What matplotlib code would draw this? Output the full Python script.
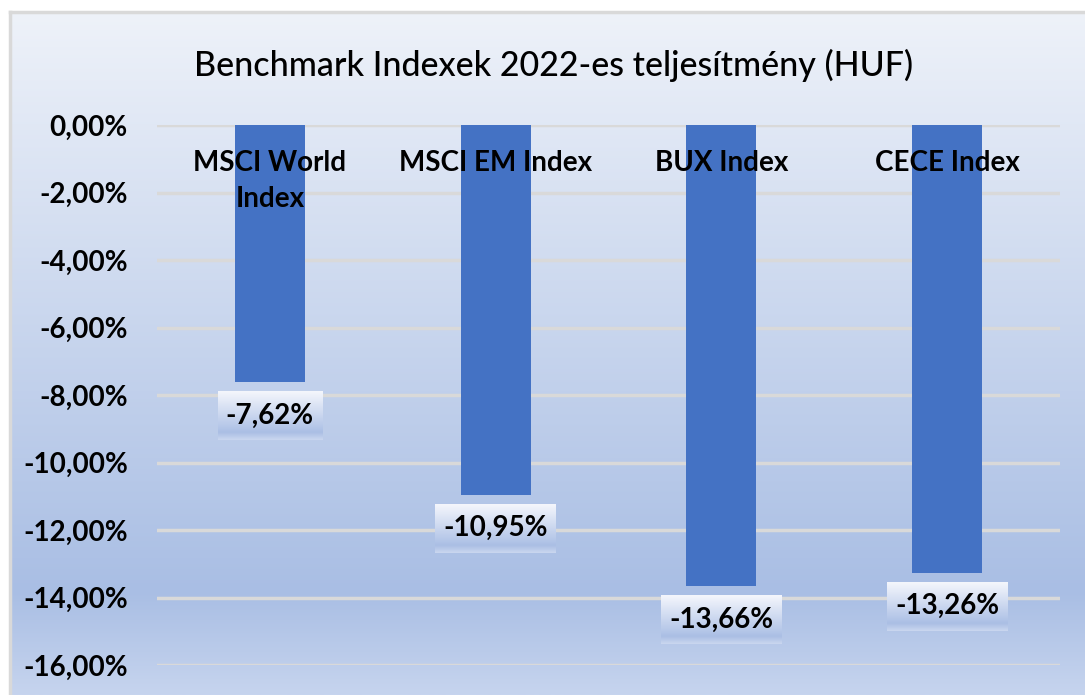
import numpy as np
import matplotlib.pyplot as plt
from matplotlib.colors import LinearSegmentedColormap

# data
categories = ["MSCI World\nIndex", "MSCI EM Index", "BUX Index", "CECE Index"]
values = [-7.62, -10.95, -13.66, -13.26]
yticks = [0, -2, -4, -6, -8, -10, -12, -14, -16]
title = "Benchmark Indexek 2022-es teljesítmény (HUF)"

plt.rcParams['font.family'] = ['Lato', 'DejaVu Sans']

fig = plt.figure(figsize=(10.85, 6.95), dpi=100)

# chart area background with vertical gradient
bg = fig.add_axes([10 / 1085, 0, 1 - 10 / 1085, 683 / 695])
bg_cmap = LinearSegmentedColormap.from_list(
    "bg", [(0, "#eef2f9"), (0.85, "#a9bee4"), (1.0, "#c6d4ee")])
bg.imshow(np.linspace(0, 1, 256).reshape(-1, 1), cmap=bg_cmap, aspect="auto",
          extent=[0, 1, 0, 1])
bg.set_xticks([])
bg.set_yticks([])
for s in ["right", "bottom"]:
    bg.spines[s].set_visible(False)
for s in ["left", "top"]:
    bg.spines[s].set_color("#d9d9d9")
    bg.spines[s].set_linewidth(2.5)

fig.text(554 / 1085, 1 - 65 / 695, title, ha="center", va="center",
         fontsize=24.5, fontweight="medium", color="black")

ax = fig.add_axes([157 / 1085, 30 / 695, 903 / 1085, 540 / 695])
ax.patch.set_alpha(0)
x = np.arange(len(categories))
ax.bar(x, values, width=0.31, color="#4472c4", zorder=2)
ax.set_xlim(-0.5, len(categories) - 0.5)
ax.set_ylim(-16, 0)
ax.set_yticks(yticks)
ax.set_yticklabels([f"{v:.2f}%".replace(".", ",") for v in yticks],
                   fontsize=20, fontweight="bold")
ax.set_xticks([])
ax.tick_params(axis="y", length=0, pad=21)
for s in ax.spines.values():
    s.set_visible(False)
ax.grid(axis="y", color="#d9d9d9", linewidth=2.5, zorder=1)
ax.set_axisbelow(True)

for xi, name in zip(x, categories):
    ax.text(xi, -0.75, name, ha="center", va="top", fontsize=20,
            fontweight="bold", linespacing=1.45, zorder=4)

# data labels with gradient boxes
box_cmap = LinearSegmentedColormap.from_list(
    "box", [(0, "#f4f6fc"), (0.75, "#b4c6e8"), (0.85, "#aabee4"), (1.0, "#c9d6ef")])
labels = []
for xi, v in zip(x, values):
    t = ax.text(xi, v - 1.0, f"{v:.2f}%".replace(".", ","), ha="center",
                va="center", fontsize=20, fontweight="bold", zorder=6)
    labels.append(t)

fig.canvas.draw()
inv = ax.transData.inverted()
for t, v in zip(labels, values):
    bb = t.get_window_extent()
    top = ax.transData.transform((0, v))[1] - 9
    (x0, y0) = inv.transform((bb.x0 - 8, top - 49))
    (x1, y1) = inv.transform((bb.x1 + 8, top))
    ax.imshow(np.linspace(0, 1, 64).reshape(-1, 1), cmap=box_cmap,
              aspect="auto", extent=[x0, x1, y0, y1], zorder=5)
ax.set_xlim(-0.5, len(categories) - 0.5)
ax.set_ylim(-16, 0)

fig.savefig("out.png", dpi=100)
